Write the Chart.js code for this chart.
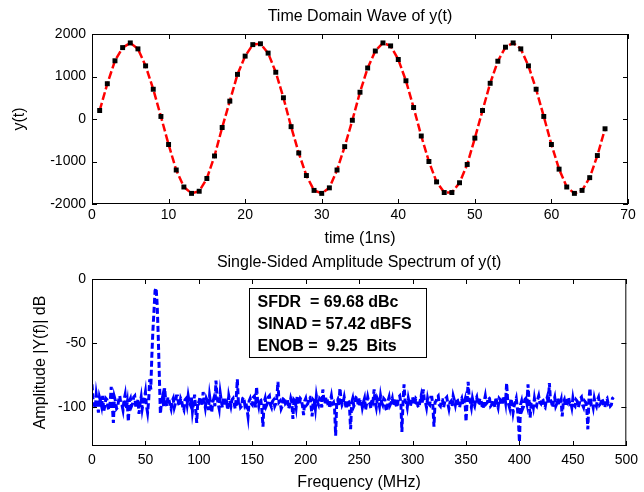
<!DOCTYPE html>
<html><head><meta charset="utf-8">
<script src="https://cdn.jsdelivr.net/npm/chart.js@4/dist/chart.umd.min.js"></script>
<style>
html,body{margin:0;padding:0;background:#fff;}
#wrap{position:relative;width:644px;height:492px;background:#fff;}
#c1{position:absolute;left:0;top:0;}
#c2{position:absolute;left:0;top:250px;}
</style></head><body>
<div id="wrap">
<canvas id="c1" width="644" height="250"></canvas>
<canvas id="c2" width="644" height="242"></canvas>
</div>
<script>
// ---- data: time domain ----
const timeNs = [1,2,3,4,5,6,7,8,9,10,11,12,13,14,15,16,17,18,19,20,21,22,23,24,25,26,27,28,29,30,31,32,33,34,35,36,37,38,39,40,41,42,43,44,45,46,47,48,49,50,51,52,53,54,55,56,57,58,59,60,61,62,63,64,65,66,67];
const waveY = [200,830,1370,1680,1790,1650,1250,700,60,-600,-1200,-1600,-1750,-1700,-1400,-870,-200,420,1050,1480,1750,1770,1550,1100,500,-180,-800,-1330,-1680,-1750,-1620,-1200,-650,-30,630,1200,1600,1790,1720,1400,900,270,-400,-1000,-1480,-1730,-1730,-1500,-1070,-450,200,840,1360,1690,1790,1650,1250,700,60,-600,-1180,-1600,-1750,-1680,-1380,-860,-230];
const timeTicks = [0,10,20,30,40,50,60,70];
const waveTicks = [-2000,-1000,0,1000,2000];

// ---- data: spectrum (1 MHz bins starting at 0 MHz) ----
const freqStartMHz = 0;
const freqStepMHz = 1;
const ampDb = [
-82,-94,-97,-101,-90,-96,-104,-92,-95,-99,
-91,-103,-99,-93,-94,-100,-102,-96,-84,-98,
-112,-92,-95,-101,-100,-94,-91,-97,-98,-102,
-94,-90,-101,-96,-111,-95,-93,-99,-97,-92,
-91,-100,-99,-94,-105,-97,-92,-101,-96,-93,
-88,-99,-104,-95,-78,-86,-60,-40,-25,-9,
-7,-20,-45,-75,-105,-96,-92,-99,-85,-95,
-99,-92,-94,-98,-101,-95,-93,-100,-97,-91,
-91,-97,-99,-93,-95,-100,-102,-94,-93,-98,
-91,-96,-98,-92,-103,-97,-90,-101,-112,-95,
-96,-92,-93,-99,-88,-95,-100,-93,-95,-102,
-91,-97,-104,-96,-93,-99,-79,-92,-97,-101,
-89,-95,-100,-92,-94,-98,-96,-102,-91,-95,
-99,-94,-93,-97,-101,-92,-78,-96,-95,-100,
-99,-93,-92,-98,-96,-101,-107,-95,-93,-97,
-98,-92,-91,-100,-84,-95,-99,-93,-94,-102,
-115,-96,-93,-99,-97,-92,-91,-98,-100,-95,
-94,-99,-97,-92,-80,-96,-95,-101,-99,-93,
-92,-97,-96,-94,-101,-98,-93,-96,-109,-94,
-95,-100,-91,-96,-98,-93,-94,-99,-106,-95,
-93,-98,-97,-92,-92,-99,-107,-94,-95,-101,
-91,-96,-98,-93,-94,-100,-86,-95,-97,-92,
-93,-99,-100,-95,-91,-97,-96,-101,-122,-96,
-94,-99,-85,-93,-98,-96,-92,-97,-101,-94,
-95,-100,-117,-96,-93,-99,-97,-92,-91,-98,
-99,-94,-94,-100,-96,-93,-102,-97,-92,-96,
-97,-101,-93,-95,-86,-96,-100,-93,-95,-99,
-91,-96,-98,-93,-94,-101,-103,-95,-92,-98,
-96,-93,-99,-97,-93,-100,-97,-92,-91,-96,
-119,-97,-82,-95,-96,-100,-93,-97,-99,-94,
-92,-98,-97,-93,-94,-99,-100,-95,-91,-97,
-86,-94,-96,-100,-93,-97,-98,-92,-92,-99,
-115,-96,-95,-92,-91,-98,-99,-94,-94,-100,
-96,-93,-92,-97,-101,-96,-95,-99,-91,-94,
-98,-93,-94,-99,-100,-95,-93,-98,-97,-94,
-111,-95,-80,-93,-96,-100,-93,-97,-99,-94,
-92,-98,-97,-93,-94,-99,-101,-95,-91,-97,
-96,-92,-93,-99,-98,-94,-95,-100,-92,-97,
-100,-93,-94,-98,-97,-92,-91,-96,-81,-95,
-98,-101,-93,-97,-104,-99,-96,-93,-100,-110,
-127,-98,-95,-101,-99,-94,-93,-97,-82,-95,
-108,-97,-96,-100,-93,-98,-99,-94,-91,-96,
-97,-93,-94,-99,-100,-95,-92,-97,-81,-94,
-96,-100,-95,-92,-99,-97,-93,-98,-97,-94,
-107,-96,-94,-99,-98,-93,-92,-97,-96,-100,
-93,-98,-99,-94,-95,-100,-97,-93,-92,-98,
-100,-95,-96,-101,-117,-94,-85,-97,-96,-100,
-93,-97,-99,-94,-92,-98,-97,-93,-95,-99,
-100,-94,-93,-97,-96,-99,-98,-93,-92
];
const freqTicks = [0,50,100,150,200,250,300,350,400,450,500];
const ampTicks = [-100,-50,0];
const metricLines = ['SFDR  = 69.68 dBc','SINAD = 57.42 dBFS','ENOB =  9.25  Bits'];

const FONT = "'Liberation Sans', Arial, sans-serif";
const tickFont = {family: FONT, size: 14, weight: 'normal'};
const titleFont = {family: FONT, size: 16, weight: 'normal'};

const framePlugin = {
  id: 'frame',
  afterLayout(chart) {
    const tb = chart.titleBlock, a = chart.chartArea;
    if (tb) { tb.left = a.left; tb.right = a.right; tb.width = a.right - a.left; }
  },
  afterDatasetsDraw(chart) {
    const {ctx, chartArea: a, scales: {x, y}} = chart;
    ctx.save();
    ctx.strokeStyle = '#000';
    ctx.lineWidth = 1;
    ctx.strokeRect(a.left + 0.5, a.top + 0.5, a.right - a.left - 1, a.bottom - a.top - 1);
    const tl = 5;
    ctx.beginPath();
    x.ticks.forEach(t => {
      const px = Math.round(x.getPixelForValue(t.value)) + 0.5;
      ctx.moveTo(px, a.bottom); ctx.lineTo(px, a.bottom - tl);
      ctx.moveTo(px, a.top); ctx.lineTo(px, a.top + tl);
    });
    y.ticks.forEach(t => {
      const py = Math.round(y.getPixelForValue(t.value)) + 0.5;
      ctx.moveTo(a.left, py); ctx.lineTo(a.left + tl, py);
      ctx.moveTo(a.right, py); ctx.lineTo(a.right - tl, py);
    });
    ctx.stroke();
    ctx.restore();
  }
};

const boxPlugin = {
  id: 'metricsBox',
  afterDatasetsDraw(chart, args, opts) {
    if (!opts || !opts.lines) return;
    const {ctx, scales: {x, y}} = chart;
    const l = Math.round(x.getPixelForValue(opts.x0)) + 0.5;
    const r = Math.round(x.getPixelForValue(opts.x1)) + 0.5;
    const t = Math.round(y.getPixelForValue(opts.y0)) + 0.5;
    const b = Math.round(y.getPixelForValue(opts.y1)) + 0.5;
    ctx.save();
    ctx.fillStyle = '#fff';
    ctx.fillRect(l, t, r - l, b - t);
    ctx.strokeStyle = '#000';
    ctx.lineWidth = 1;
    ctx.strokeRect(l, t, r - l, b - t);
    ctx.fillStyle = '#000';
    ctx.font = 'bold 16px ' + FONT;
    ctx.textBaseline = 'middle';
    opts.lines.forEach((s, i) => ctx.fillText(s, l + 8, t + 14 + i * 22));
    ctx.restore();
  }
};

function axisCommon(ticksArr, min, max) {
  return {
    type: 'linear', min, max,
    afterBuildTicks: s => { s.ticks = ticksArr.map(v => ({value: v})); },
    grid: {display: false, drawTicks: false},
    border: {display: false},
    ticks: {font: tickFont, color: '#000', autoSkip: false, maxRotation: 0, callback: v => String(v)}
  };
}

// ---- top chart ----
const topX = axisCommon(timeTicks, 0, 70);
topX.ticks.padding = 3;
topX.title = {display: true, text: 'time (1ns)', font: titleFont, color: '#000', padding: {top: 0, bottom: 2}};
topX.afterFit = s => { s.height = 46; };
const topY = axisCommon(waveTicks, -2000, 2000);
topY.ticks.padding = 6;
topY.title = {display: true, text: 'y(t)', font: titleFont, color: '#000', padding: {top: 10, bottom: 0}};
topY.afterFit = s => { s.width = 92; };

new Chart(document.getElementById('c1'), {
  type: 'line',
  data: {
    datasets: [{
      data: timeNs.map((t, i) => ({x: t, y: waveY[i]})),
      borderColor: '#ff0000',
      borderWidth: 2.5,
      borderDash: [8, 3],
      pointStyle: 'rect',
      pointRadius: 3.5,
      pointBackgroundColor: '#000',
      pointBorderColor: '#000',
      pointBorderWidth: 0,
      tension: 0,
      fill: false
    }]
  },
  options: {
    responsive: false,
    animation: false,
    layout: {padding: {left: 0, right: 16, top: 0, bottom: 0}},
    plugins: {
      legend: {display: false},
      tooltip: {enabled: false},
      title: {display: true, text: 'Time Domain Wave of y(t)', font: titleFont, color: '#000', padding: {top: 7, bottom: 7.8}}
    },
    scales: {x: topX, y: topY}
  },
  plugins: [framePlugin]
});

// ---- bottom chart ----
const freqMHz = ampDb.map((_, i) => freqStartMHz + i * freqStepMHz);
const botX = axisCommon(freqTicks, 0, 500);
botX.ticks.padding = 6;
botX.title = {display: true, text: 'Frequency (MHz)', font: titleFont, color: '#000', padding: {top: 0, bottom: 0}};
botX.afterFit = s => { s.height = 46; };
const botY = axisCommon(ampTicks, -130, 0);
botY.ticks.padding = 6;
botY.title = {display: true, text: 'Amplitude |Y(f)| dB', font: titleFont, color: '#000', padding: {top: 31, bottom: 0}};
botY.afterFit = s => { s.width = 92; };

new Chart(document.getElementById('c2'), {
  type: 'line',
  data: {
    datasets: [{
      data: freqMHz.map((f, i) => ({x: f, y: ampDb[i]})),
      borderColor: '#0000ff',
      borderWidth: 3,
      borderDash: [6, 3],
      pointRadius: 0,
      tension: 0,
      fill: false
    }]
  },
  options: {
    responsive: false,
    animation: false,
    layout: {padding: {left: 0, right: 16, top: 0, bottom: 0}},
    plugins: {
      legend: {display: false},
      tooltip: {enabled: false},
      title: {display: true, text: 'Single-Sided Amplitude Spectrum of y(t)', font: titleFont, color: '#000', padding: {top: 3, bottom: 6.8}},
      metricsBox: {x0: 147, x1: 313, y0: -7, y1: -60.5, lines: metricLines}
    },
    scales: {x: botX, y: botY}
  },
  plugins: [framePlugin, boxPlugin]
});
</script>
</body></html>
